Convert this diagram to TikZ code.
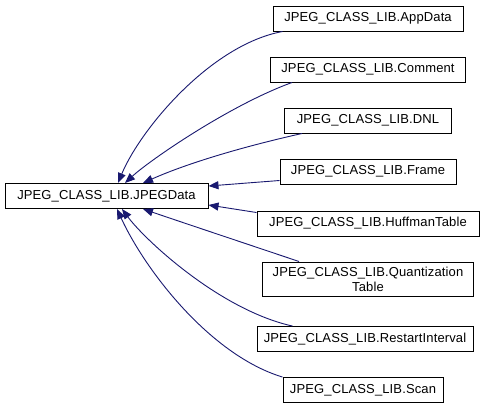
\documentclass[tikz,border=0pt]{standalone}
\usepackage{fontspec}
\setmainfont[LetterSpace=1]{Liberation Sans}
\usepackage{tikz}
\usetikzlibrary{arrows.meta,positioning}
\definecolor{navyedge}{RGB}{25,25,112}

\begin{document}
\begin{tikzpicture}[
  x=1pt, y=-1pt,
  node distance=25pt,
  >={Triangle[length=10pt, width=8pt]},
  every node/.style={font=\fontsize{13}{15}\selectfont, align=center},
  cls/.style={draw=black, line width=1pt, fill=white, inner xsep=3pt, minimum height=25pt},
  arrow/.style={->, line width=0.9pt, color=navyedge}
]
\fill[white] (0,0) rectangle (487,408);
\useasboundingbox (0,0) rectangle (487,408);

\node[cls, minimum width=203pt] (data) at (106.5,196) {JPEG\_CLASS\_LIB.JPEGData};

\node[cls, minimum width=190pt] (app) at (368,18.5) {JPEG\_CLASS\_LIB.AppData};
\node[cls, minimum width=195pt, below=of app] (comment) {JPEG\_CLASS\_LIB.Comment};
\node[cls, minimum width=167pt, below=of comment] (dnl) {JPEG\_CLASS\_LIB.DNL};
\node[cls, minimum width=176pt, below=of dnl] (frame) {JPEG\_CLASS\_LIB.Frame};
\node[cls, minimum width=222pt, below=26pt of frame] (huffman) {JPEG\_CLASS\_LIB.HuffmanTable};
\node[cls, minimum width=211pt, below=25pt of huffman, inner ysep=5pt] (quant) {JPEG\_CLASS\_LIB.Quantization\\Table};
\node[cls, minimum width=216pt, below=29pt of quant, xshift=-3pt] (restart) {JPEG\_CLASS\_LIB.RestartInterval};
\node[cls, minimum width=160pt, below=of restart, xshift=-2pt] (scan) {JPEG\_CLASS\_LIB.Scan};

\draw[arrow] ([xshift=10pt]app.south west) .. controls (210,45) and (140,130) .. ([xshift=11.5pt]data.north);
\draw[arrow] ([xshift=22pt]comment.south west) .. controls (230,105) and (150,160) .. ([xshift=18.5pt]data.north);
\draw[arrow] ([xshift=18pt]dnl.south west) .. controls (250,145) and (190,162) .. ([xshift=36.5pt]data.north);
\draw[arrow] ([yshift=4pt]frame.south west) -- ([yshift=-3pt]data.north east);
\draw[arrow] ([yshift=-2pt]huffman.north west) -- ([yshift=4pt]data.south east);
\draw[arrow] ([xshift=37pt]quant.north west) .. controls (250,245) and (190,225) .. ([xshift=36.5pt]data.south);
\draw[arrow] ([xshift=36pt]restart.north west) .. controls (220,310) and (145,240) .. ([xshift=15.5pt]data.south);
\draw[arrow] (scan.north west) .. controls (210,355) and (145,270) .. ([xshift=10.5pt]data.south);

\end{tikzpicture}
\end{document}
